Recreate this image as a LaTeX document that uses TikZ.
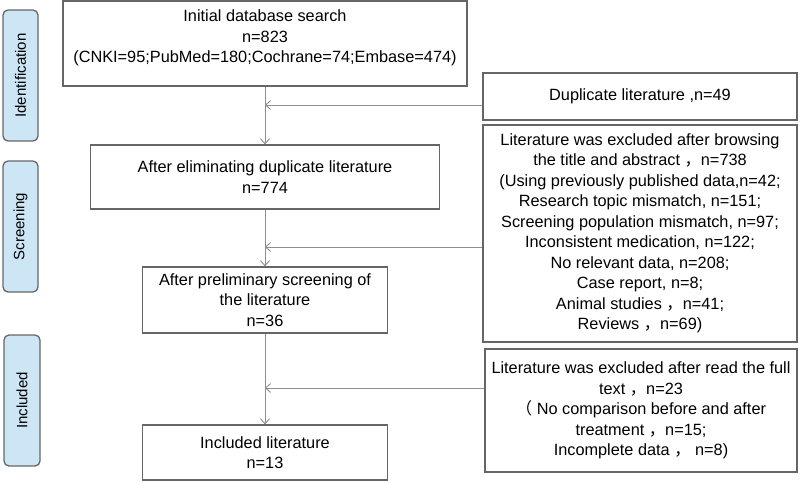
\documentclass[tikz,border=0pt]{standalone}
\usepackage{fontspec}
\setmainfont{Liberation Sans}
\newfontfamily\cjk{Noto Sans CJK SC}
\usetikzlibrary{arrows.meta}
\definecolor{boxgray}{HTML}{666666}
\definecolor{linegray}{HTML}{8E8E8E}
\definecolor{stagefill}{HTML}{CDE6F6}
\newcommand{\fwc}{{\cjk ，}}
\newcommand{\fwp}{{\cjk （}}
\tikzset{box/.style = {draw = boxgray, line width = 1.3, align = center, inner sep = 0}}
\tikzset{stage/.style = {draw = boxgray, fill = stagefill, rounded corners = 5, rotate = 90,
                         minimum width = 131, minimum height = 35, line width = 1.3,
                         font = \fontsize{15}{18}\selectfont}}
\tikzset{flow/.style = {draw = linegray, line width = 0.9, -{Straight Barb[length = 5, width = 9]}}}

\begin{document}
\begin{tikzpicture}[x = 1pt, y = -1pt, font = \fontsize{16.3}{20.5}\selectfont]
    \useasboundingbox (0, 0) rectangle (800, 482);
    % stages
    \node [stage] (ident) at (20.5, 75.5) {Identification};
    \node [stage] (screen) at (20.5, 226.5) {Screening};
    \node [stage, minimum height = 36] (incl) at (22, 400.5) {Included};
    % main column
    \node [box, minimum width = 404, minimum height = 85] (init) at (265, 43.5)
      {Initial database search\\n=823\\(CNKI=95;PubMed=180;Cochrane=74;Embase=474)\\[-6pt]\mbox{}};
    \node [box, minimum width = 349, minimum height = 64] (elim) at (265, 177)
      {After eliminating duplicate literature\\n=774};
    \node [box, minimum width = 245, minimum height = 66] (prelim) at (265, 300)
      {After preliminary screening of\\the literature\\n=36};
    \node [box, minimum width = 245, minimum height = 55] (final) at (265, 452.5)
      {Included literature\\n=13};
    % excluded
    \node [box, minimum width = 314, minimum height = 47] (dup) at (640, 96.5)
      {Duplicate literature ,n=49};
    \node [box, minimum width = 314, minimum height = 217] (browse) at (640, 233.5)
      {Literature was excluded after browsing\\the title and abstract \fwc n=738\\
       (Using previously published data,n=42;\\Research topic mismatch, n=151;\\
       Screening population mismatch, n=97;\\Inconsistent medication, n=122;\\
       No relevant data, n=208;\\Case report, n=8;\\Animal studies \fwc n=41;\\Reviews \fwc n=69)};
    \node [box, minimum width = 312, minimum height = 123] (full) at (641, 410.5)
      {Literature was excluded after read the full\\text \fwc n=23\\
       \fwp\ No comparison before and after\\treatment \fwc n=15;\\Incomplete data \fwc\ n=8)};
    \coordinate (j1) at (265, 105);
    \coordinate (j2) at (265, 247);
    \coordinate (j3) at (265, 388);
    \draw [flow] (init) -- (elim);
    \draw [flow] (elim) -- (prelim);
    \draw [flow] (prelim) -- (final);
    \draw [flow] (dup.west |- j1) -- (j1);
    \draw [flow] (browse.west |- j2) -- (j2);
    \draw [flow] (full.west |- j3) -- (j3);
  \end{tikzpicture}
\end{document}
